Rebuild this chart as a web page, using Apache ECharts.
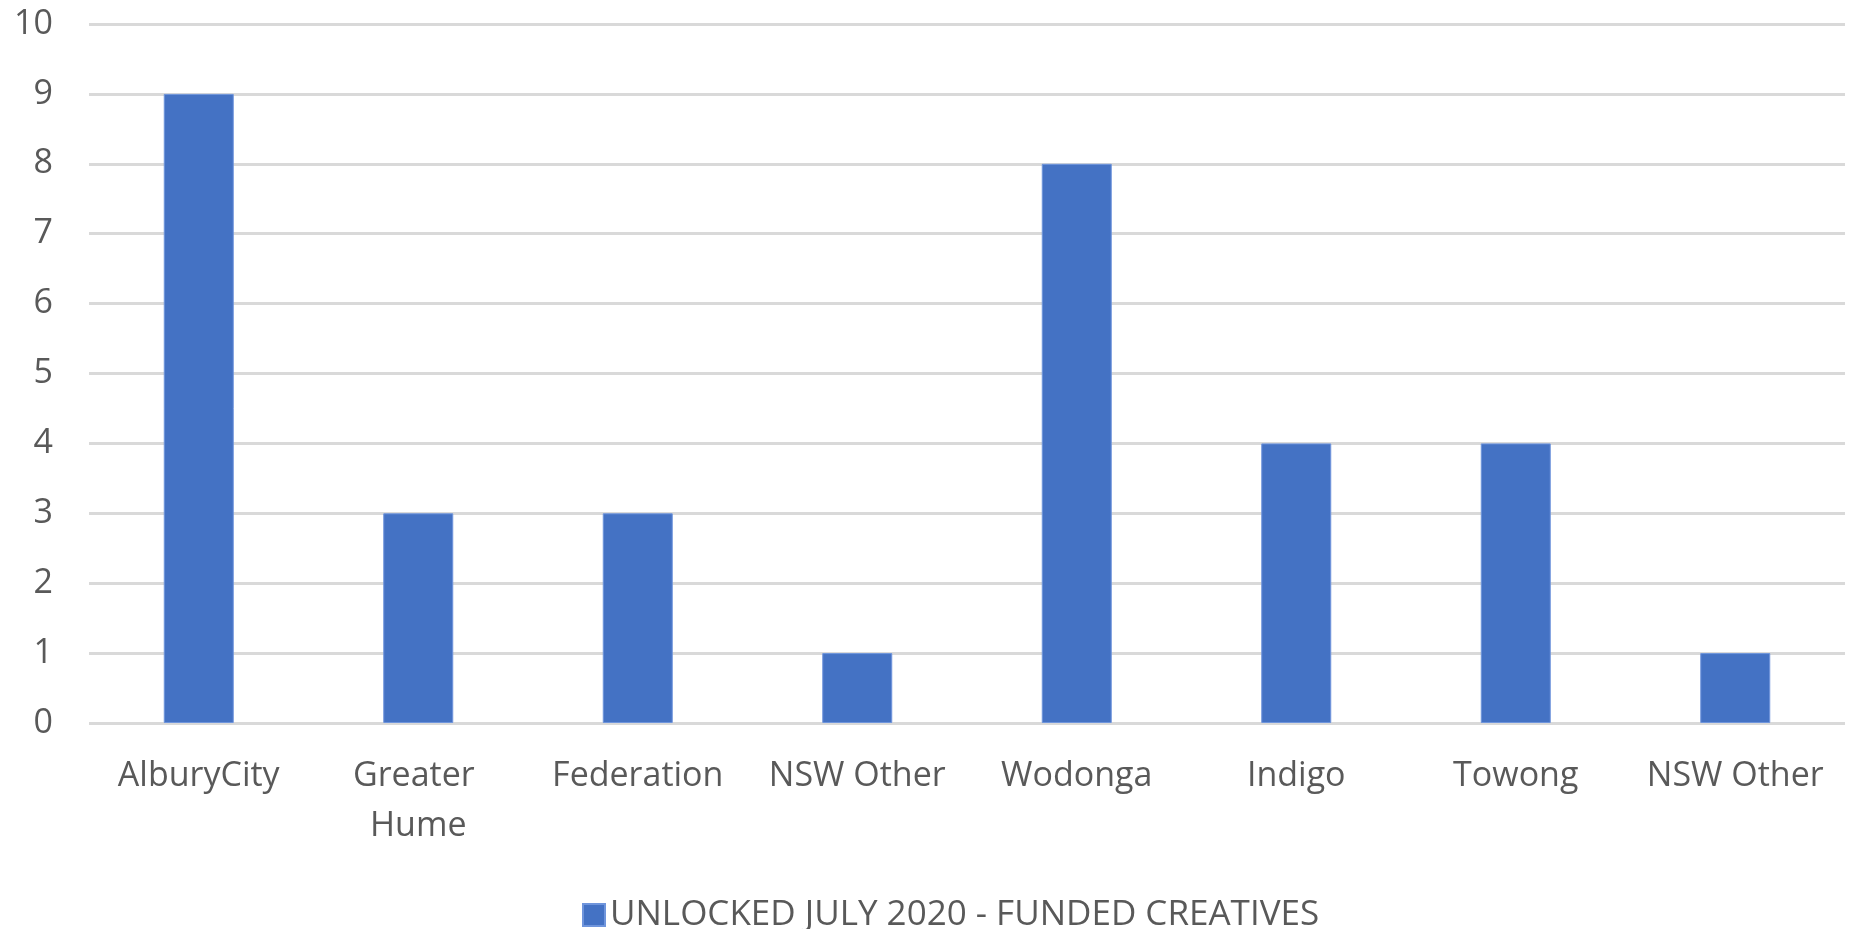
<!DOCTYPE html>
<html>
<head>
<meta charset="utf-8">
<script src="https://cdn.jsdelivr.net/npm/echarts@6/dist/echarts.min.js"></script>
<style>
html,body{margin:0;padding:0;background:#fff;}
#c{width:1851px;height:929px;}
</style>
</head>
<body>
<div id="c"></div>
<script>
const categories = ['AlburyCity', 'Greater Hume', 'Federation', 'NSW Other', 'Wodonga', 'Indigo', 'Towong', 'NSW Other'];
const values = [9, 3, 3, 1, 8, 4, 4, 1];
const seriesName = 'UNLOCKED JULY 2020 - FUNDED CREATIVES';
const yMin = 0, yMax = 10, yInterval = 1;

const chart = echarts.init(document.getElementById('c'));
const font = '"Open Sans", sans-serif';
chart.setOption({
  animation: false,
  backgroundColor: '#ffffff',
  grid: { left: 89, right: 6, top: 24, bottom: 206, containLabel: false },
  legend: {
    data: [seriesName],
    left: 577,
    top: 892,
    itemWidth: 22,
    itemHeight: 22,
    icon: 'rect',
    textStyle: { color: '#595959', fontSize: 35, fontFamily: font, lineHeight: 36 }
  },
  xAxis: {
    type: 'category',
    data: categories,
    axisLine: { show: false },
    axisTick: { show: false },
    axisLabel: {
      color: '#595959',
      fontSize: 34,
      fontFamily: font,
      lineHeight: 50,
      margin: 28,
      interval: 0,
      width: 205,
      overflow: 'break'
    }
  },
  yAxis: {
    type: 'value',
    min: yMin,
    max: yMax,
    interval: yInterval,
    axisLine: { show: false },
    axisTick: { show: false },
    axisLabel: { color: '#595959', fontSize: 34, fontFamily: font, margin: 36 },
    splitLine: { lineStyle: { color: '#d9d9d9', width: 3 } }
  },
  series: [{
    name: seriesName,
    type: 'bar',
    data: values,
    barWidth: 70,
    itemStyle: { color: '#4472C4', borderColor: '#6f95dc', borderWidth: 1 }
  }]
});
</script>
</body>
</html>
